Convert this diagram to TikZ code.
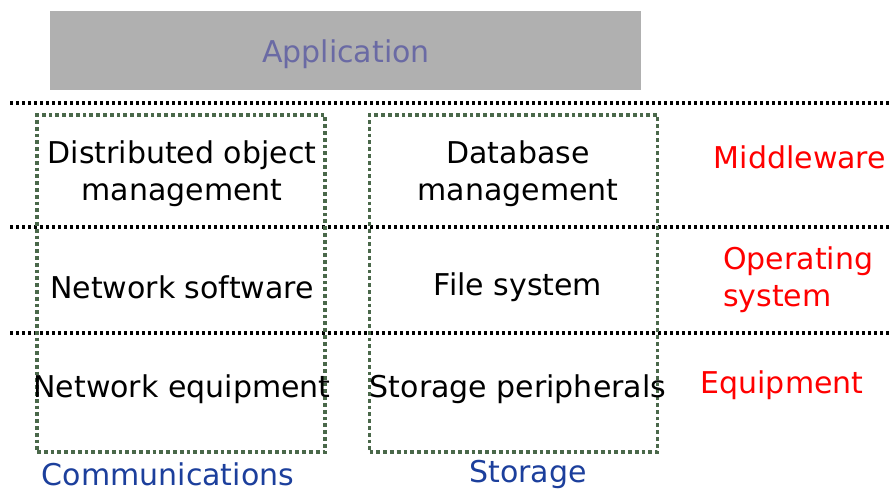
\documentclass[tikz,border=0pt]{standalone}
\usepackage{fontspec}
\setmainfont{DejaVu Sans}
\definecolor{appgray}{HTML}{B0B0B0}
\definecolor{apptext}{HTML}{6A6AA4}
\definecolor{boxgreen}{HTML}{4A684A}
\definecolor{colblue}{HTML}{1C3F9C}
\definecolor{lblred}{HTML}{FF0000}
\begin{document}
\begin{tikzpicture}[x=1pt,y=-1pt,
  txt/.style={font=\fontsize{30}{37}\selectfont, align=center, inner sep=0pt},
  layer/.style={txt, text=lblred, align=left},
  col/.style={txt, text=colblue},
  colbox/.style={draw=boxgreen, line width=3.8pt, dash pattern=on 3.8pt off 3pt, minimum width=288pt, minimum height=337pt, inner sep=0pt},
  sep/.style={draw=black, line width=3.5pt, dash pattern=on 3pt off 3pt}]
\useasboundingbox (0,0) rectangle (890,492);
% application
\node[fill=appgray, minimum width=591pt, minimum height=79pt, inner sep=0pt] (app) at (345.5,50.5) {};
\node[txt, text=apptext] (apptxt) at (346,54) {Application};
% separators
\coordinate (s1a) at (10,103); \coordinate (s1b) at (890,103);
\coordinate (s2a) at (10,227); \coordinate (s2b) at (890,227);
\coordinate (s3a) at (10,333); \coordinate (s3b) at (890,333);
\draw[sep] (s1a) -- (s1b);
\draw[sep] (s2a) -- (s2b);
\draw[sep] (s3a) -- (s3b);
% column boxes
\node[colbox] (comm) at (181,283.5) {};
\node[colbox] (stor) at (513.5,283.5) {};
% cells
\node[txt] (dom) at (182,174) {Distributed object\\management};
\node[txt] (dbm) at (518,174) {Database\\management};
\node[txt] (nsw) at (182,287) {Network software};
\node[txt] (fs)  at (518,287) {File system};
\node[txt] (neq) at (182,389) {Network equipment};
\node[txt] (sp)  at (518,389) {Storage peripherals};
% layer labels
\node[layer] (mw) at (800,157) {Middleware};
\node[layer, anchor=west] (os) at (723,280) {Operating\\system};
\node[layer] (eq) at (782,385) {Equipment};
% column labels
\node[col] (cl) at (168,474) {Communications};
\node[col] (sl) at (528,474) {Storage};
\end{tikzpicture}
\end{document}
